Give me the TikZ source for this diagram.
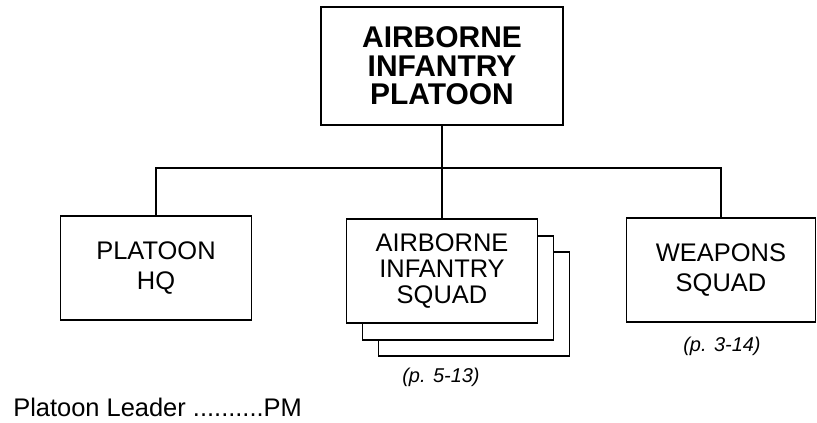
\documentclass[tikz,border=0pt]{standalone}
\usepackage{fontspec}
\setmainfont{Liberation Sans}
\usetikzlibrary{positioning}
\tikzset{
  orgbox/.style={draw, line width=1.3pt, fill=white, align=center, inner sep=0pt,
                 minimum width=4.775cm, minimum height=2.6cm,
                 font=\fontsize{18.1}{21.3}\selectfont},
  orgtopo/.style={orgbox, minimum width=6.05cm, minimum height=2.95cm,
                 font=\fontsize{21.3}{20.3}\selectfont\bfseries},
  orgpilha/.style={orgbox, font=\fontsize{18.1}{18.8}\selectfont},
  orgligacao/.style={line width=1.3pt},
  orgpagina/.style={font=\fontsize{14.2}{16}\selectfont\itshape},
}
\begin{document}
\begin{tikzpicture}[x=0.025cm, y=-0.025cm]
    \useasboundingbox (0,0) rectangle (817,422);
    % pelotao
    \node[orgtopo] (pelotao) at (442,66) {AIRBORNE\\INFANTRY\\PLATOON};
    % subordinados
    \node[orgbox] (qg) at (156,268) {PLATOON\\HQ};
    \node[orgpilha] (esqC) at (474,304) {};
    \node[orgpilha] (esqB) at (458,288) {};
    \node[orgpilha] (esq) at (442,271) {AIRBORNE\\INFANTRY\\SQUAD};
    \node[orgbox, minimum width=4.725cm] (armas) at (721,270) {WEAPONS\\SQUAD};
    % ligacoes
    \coordinate (barra) at (442,168);
    \draw[orgligacao] (pelotao.south) -- (esq.north);
    \draw[orgligacao] (qg.north) |- (barra) -| (armas.north);
    % referencias de pagina
    \node[orgpagina] (refesq) at (441,377) {(p. 5-13)};
    \node[orgpagina] (refarmas) at (722,346) {(p. 3-14)};
    % funcao
    \node[anchor=west, inner sep=0pt, font=\fontsize{18.1}{21}\selectfont] (lider) at (13,407) {Platoon Leader ..........PM};
\end{tikzpicture}
\end{document}
